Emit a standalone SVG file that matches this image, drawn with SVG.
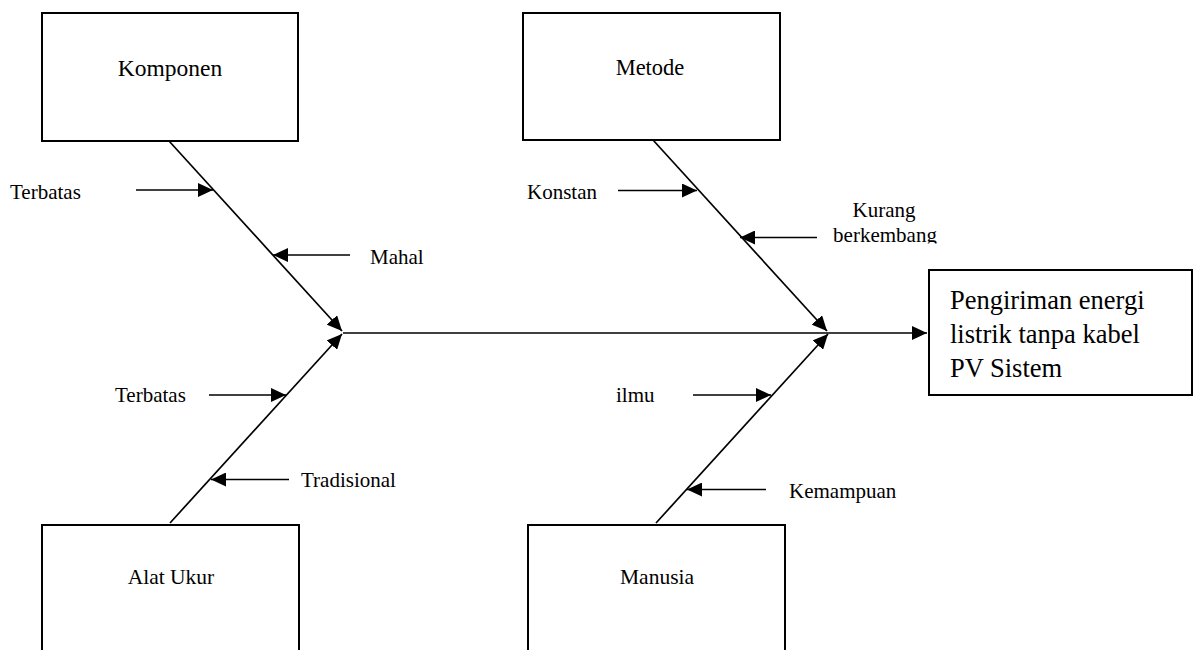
<svg xmlns="http://www.w3.org/2000/svg" width="1193" height="650" viewBox="0 0 1193 650">
<style>
  .box{fill:#fff;stroke:#000;stroke-width:2}
  .ln{stroke:#000;stroke-width:1.7;fill:none;marker-end:url(#ah)}
  .t{font-family:"Liberation Serif","Times New Roman",serif;fill:#000}
  .lbl{font-size:21px}
  .ttl{font-size:22px;text-anchor:middle}
  .eff{font-size:26.5px}
</style>
<defs>
  <marker id="ah" viewBox="0 0 15 14" refX="15" refY="7" markerWidth="15" markerHeight="14" markerUnits="userSpaceOnUse" orient="auto">
    <path d="M0,0 L15,7 L0,14 z" fill="#000"/>
  </marker>
  <clipPath id="kclip"><rect x="820" y="190" width="140" height="53.5"/></clipPath>
</defs>
<rect width="1193" height="650" fill="#fff"/>

<g id="connectors">
  <line class="ln" x1="343" y1="333" x2="927" y2="333"/>
  <line class="ln" x1="169" y1="141" x2="342" y2="331"/>
  <line class="ln" x1="170" y1="523" x2="342" y2="334"/>
  <line class="ln" x1="653" y1="140" x2="827" y2="331"/>
  <line class="ln" x1="656" y1="523" x2="828" y2="334"/>
  <line class="ln" x1="136" y1="190" x2="213" y2="190"/>
  <line class="ln" x1="350" y1="255" x2="273" y2="255"/>
  <line class="ln" x1="618" y1="190.5" x2="697" y2="190.5"/>
  <line class="ln" x1="817" y1="237.5" x2="740" y2="237.5"/>
  <line class="ln" x1="209" y1="395" x2="286" y2="395"/>
  <line class="ln" x1="289" y1="479.5" x2="211" y2="479.5"/>
  <line class="ln" x1="693" y1="395" x2="771" y2="395"/>
  <line class="ln" x1="766" y1="489.5" x2="687" y2="489.5"/>
</g>

<g id="komponen">
  <rect class="box" x="42" y="13" width="256" height="128"/>
  <text class="t ttl" x="170" y="76" style="font-size:23.5px">Komponen</text>
</g>
<g id="metode">
  <rect class="box" x="523" y="13" width="257" height="127"/>
  <text class="t ttl" x="650" y="75" style="font-size:22.5px">Metode</text>
</g>
<g id="alat-ukur">
  <rect class="box" x="42" y="525" width="257" height="140"/>
  <text class="t ttl" x="171" y="584" style="font-size:21.5px">Alat Ukur</text>
</g>
<g id="manusia">
  <rect class="box" x="528" y="525" width="257" height="140"/>
  <text class="t ttl" x="657" y="584" style="font-size:21.5px">Manusia</text>
</g>
<g id="effect">
  <rect class="box" x="929" y="270" width="263" height="125"/>
  <text class="t eff" x="950" y="309">Pengiriman energi</text>
  <text class="t eff" x="950" y="343">listrik tanpa kabel</text>
  <text class="t eff" x="950" y="377">PV Sistem</text>
</g>

<g id="label-terbatas-1"><text class="t lbl" x="10" y="199">Terbatas</text></g>
<g id="label-mahal"><text class="t lbl" x="370" y="264">Mahal</text></g>
<g id="label-konstan"><text class="t lbl" x="527" y="199">Konstan</text></g>
<g id="label-kurang" clip-path="url(#kclip)">
  <text class="t lbl" x="884" y="216.5" text-anchor="middle">Kurang</text>
  <text class="t lbl" x="885" y="241.5" text-anchor="middle">berkembang</text>
</g>
<g id="label-terbatas-2"><text class="t lbl" x="115" y="402">Terbatas</text></g>
<g id="label-tradisional"><text class="t lbl" x="301" y="487">Tradisional</text></g>
<g id="label-ilmu"><text class="t lbl" x="616" y="402">ilmu</text></g>
<g id="label-kemampuan"><text class="t lbl" x="789" y="498">Kemampuan</text></g>
</svg>
